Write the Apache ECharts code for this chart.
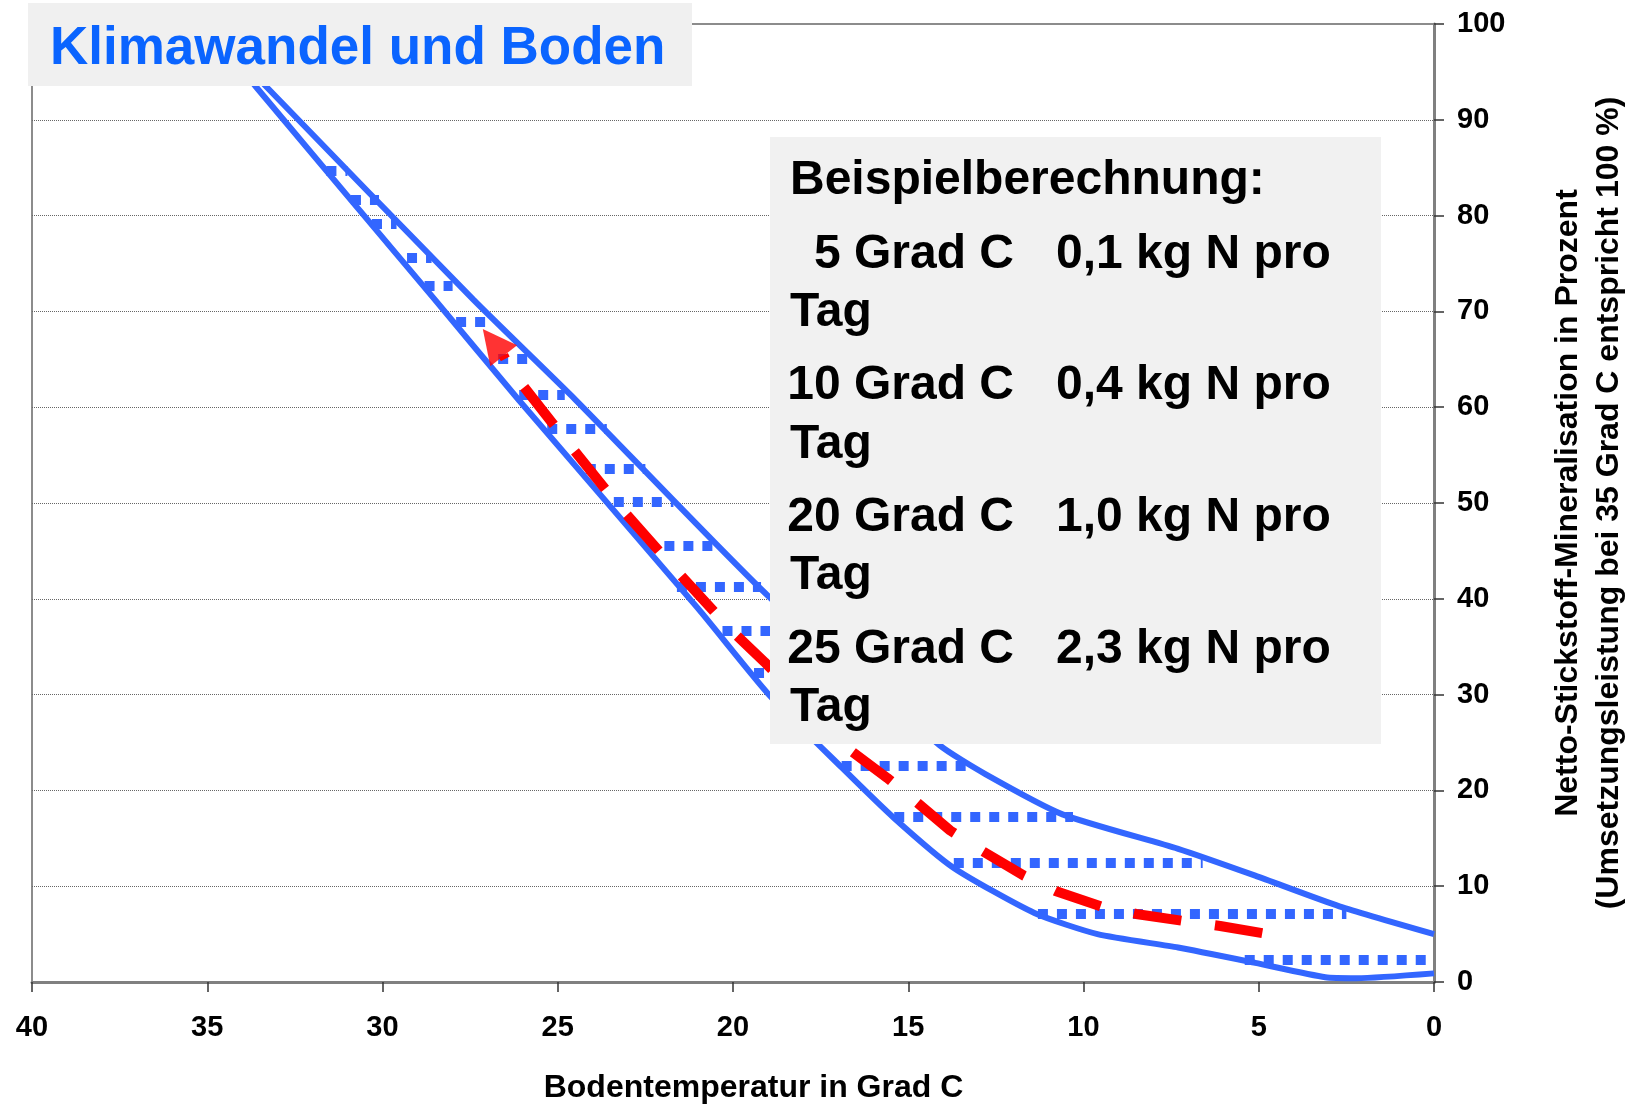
<!DOCTYPE html>
<html lang="de">
<head>
<meta charset="UTF-8">
<title>Klimawandel und Boden</title>
<script src="https://cdn.jsdelivr.net/npm/echarts@6.0.0/dist/echarts.min.js"></script>
<style>
  html, body { margin: 0; padding: 0; background: #fff; }
  #main { width: 1630px; height: 1105px; }
</style>
</head>
<body>
<div id="main"></div>
<script>
// Bodentemperatur (Grad C) / Mineralisation (%)
var upperLine = [[35, 100], [33.3, 93.4], [27.4, 71.2], [24.5, 60.8], [19, 40.3], [14.1, 24.7],
  [12.8, 21.7], [10.6, 17.5], [7.3, 13.9], [5.1, 11.1], [2.7, 7.9], [0, 5.0]];
var lowerLine = [[35, 100], [33.6, 93.4], [28.5, 71.2], [26.1, 60.7], [21, 39], [19, 30.1],
  [16.9, 22.4], [15.4, 17.1], [13.7, 11.9], [11.4, 7.2], [9.6, 5.0], [7.3, 3.6], [5.1, 2.0],
  [3.1, 0.5], [2.2, 0.4], [0, 0.9]];

// gepunktete Querlinien: Hoehe, linkes Ende, rechtes Ende
var dotY     = [84.7, 81.7, 79.1, 75.6, 72.7, 68.9, 65.1, 61.3, 57.8, 53.6, 50.1, 45.5, 41.3, 36.7, 32.3, 27.5, 22.6, 17.2, 12.4, 7.1, 2.3];
var dotLeft  = [31.6, 30.9, 30.3, 29.3, 28.8, 27.9, 26.7, 26.1, 25.3, 24.2, 23.4, 22.5, 21.6, 20.3, 19.4, 18.2, 16.9, 15.4, 13.7, 11.3, 5.4];
var dotRight = [31.0, 30.1, 29.6, 28.6, 28.0, 26.9, 25.7, 24.8, 23.6, 22.5, 21.7, 20.4, 19.2, 17.9, 16.6, 15.3, 13.3, 10.3, 6.6, 2.5, 0];

// roter Pfeil
var redLine = [[4.9, 5.1], [6.1, 5.85], [7.2, 6.4], [8.5, 7.1], [9.5, 7.9], [10.8, 9.5], [11.7, 11.1],
  [12.9, 13.7], [13.8, 15.8], [14.8, 18.9], [15.6, 21.3], [16.7, 24.3], [19.1, 33.4], [20.1, 36.9],
  [21.7, 43.3], [23.3, 49.9], [24.8, 56.7], [26.3, 63.7], [26.55, 65.4]];
var arrowHead = [[26.84, 66.76]];

var titleText = 'Klimawandel und Boden';
var boxHead = 'Beispielberechnung:';
var boxTemps = ['5 Grad C', '10 Grad C', '20 Grad C', '25 Grad C'];
var boxRates = ['0,1 kg N pro', '0,4 kg N pro', '1,0 kg N pro', '2,3 kg N pro'];

var FONT = '"Liberation Sans", Arial, sans-serif';
var BLUE = '#3366ff';
var BOXFONT = 'bold 48px ' + FONT;

var chart = echarts.init(document.getElementById('main'));

// Textbox rechts oben
var boxEls = [
  { type: 'rect', z: 100, shape: { x: 770, y: 137, width: 611, height: 607 }, style: { fill: '#f1f1f1' } },
  { type: 'text', z: 101, x: 790, y: 181, style: { text: boxHead, font: BOXFONT, fill: '#000', verticalAlign: 'middle' } }
];
boxTemps.forEach(function (t, i) {
  var mid = 254.5 + i * 131.6;
  boxEls.push({ type: 'text', z: 101, x: 1014, y: mid, style: { text: t, font: BOXFONT, fill: '#000', align: 'right', verticalAlign: 'middle' } });
  boxEls.push({ type: 'text', z: 101, x: 1056, y: mid, style: { text: boxRates[i], font: BOXFONT, fill: '#000', verticalAlign: 'middle' } });
  boxEls.push({ type: 'text', z: 101, x: 790, y: mid + 58.3, style: { text: 'Tag', font: BOXFONT, fill: '#000', verticalAlign: 'middle' } });
});

chart.setOption({
  animation: false,
  backgroundColor: '#fff',
  grid: {
    left: 32, right: 196, top: 24, bottom: 123,
    show: true, borderColor: '#8c8c8c', borderWidth: 2, backgroundColor: '#fff',
    outerBoundsMode: 'none'
  },
  xAxis: {
    type: 'value', inverse: true, min: 0, max: 40, interval: 5, position: 'bottom',
    name: 'Bodentemperatur in Grad C', nameLocation: 'middle', nameGap: 90,
    nameTextStyle: { fontFamily: FONT, fontWeight: 'bold', fontSize: 32, color: '#000', padding: [0, 0, 0, 41] },
    axisLine: { show: true, lineStyle: { color: '#808080', width: 3 } },
    axisTick: { show: true, length: 10, lineStyle: { color: '#333', width: 1.5 } },
    axisLabel: { fontFamily: FONT, fontWeight: 'bold', fontSize: 29, color: '#000', margin: 31 },
    splitLine: { show: false }
  },
  yAxis: {
    type: 'value', position: 'right', min: 0, max: 100, interval: 10,
    name: 'Netto-Stickstoff-Mineralisation in Prozent\n(Umsetzungsleistung bei 35 Grad C entspricht 100 %)',
    nameLocation: 'middle', nameGap: 114,
    nameTextStyle: { fontFamily: FONT, fontWeight: 'bold', fontSize: 32, color: '#000', lineHeight: 41 },
    axisLine: { show: true, lineStyle: { color: '#808080', width: 3 } },
    axisTick: { show: true, length: 10, lineStyle: { color: '#333', width: 1.5 } },
    axisLabel: { fontFamily: FONT, fontWeight: 'bold', fontSize: 29, color: '#000', margin: 23 },
    splitLine: { show: true, showMinLine: false, showMaxLine: false, lineStyle: { color: '#666', width: 1, type: 'dotted' } }
  },
  series: [
    {
      type: 'line', data: upperLine, symbol: 'none', z: 3, smooth: 0.2,
      lineStyle: { color: BLUE, width: 6 }
    },
    {
      type: 'line', data: lowerLine, symbol: 'none', z: 3, smooth: 0.2,
      lineStyle: { color: BLUE, width: 6 }
    },
    {
      type: 'lines', coordinateSystem: 'cartesian2d', z: 4, silent: true,
      lineStyle: { color: BLUE, width: 10, type: [10, 9], opacity: 1, cap: 'butt', curveness: 0 },
      data: dotY.map(function (y, i) { return { coords: [[dotLeft[i], y], [dotRight[i], y]] }; })
    },
    {
      type: 'line', data: redLine, symbol: 'none', z: 5,
      lineStyle: { color: '#ff0000', width: 10, type: [48, 34], cap: 'butt' }
    },
    {
      type: 'scatter', data: arrowHead, z: 6, symbol: 'triangle', symbolSize: [34, 34], symbolRotate: 38,
      itemStyle: { color: '#ff0000' }
    }
  ],
  graphic: [
    { type: 'rect', z: 100, shape: { x: 28, y: 3, width: 664, height: 83 }, style: { fill: '#f0f0f0' } },
    { type: 'text', z: 101, x: 50, y: 49, style: { text: titleText, font: 'bold 53px ' + FONT, fill: '#0a64ff', verticalAlign: 'middle' } }
  ].concat(boxEls)
});
</script>
</body>
</html>
